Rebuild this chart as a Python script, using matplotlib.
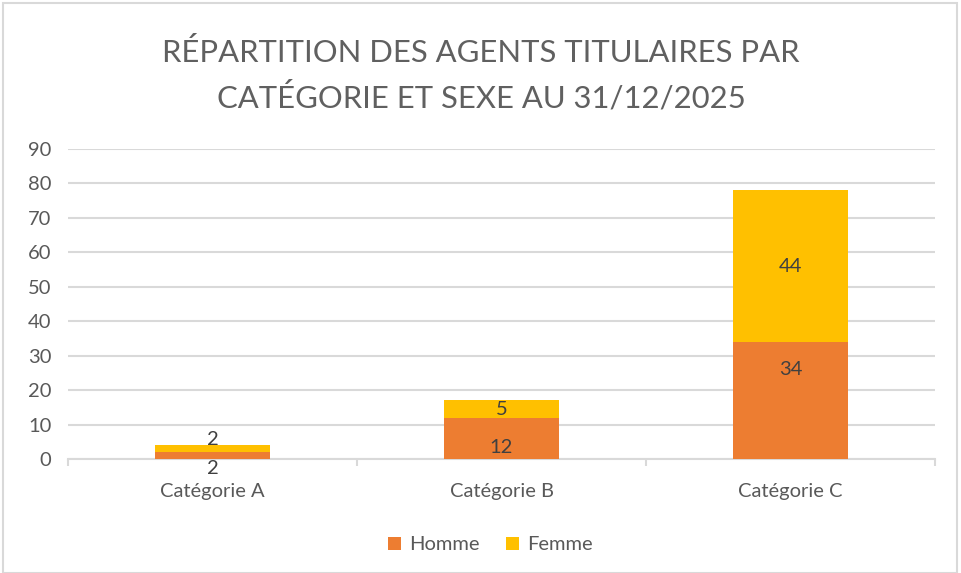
import matplotlib.pyplot as plt
import numpy as np
from matplotlib.patches import Rectangle

# Données
categories = ['Catégorie A', 'Catégorie B', 'Catégorie C']
homme = [2, 12, 34]
femme = [2, 5, 44]
y_ticks = [0, 10, 20, 30, 40, 50, 60, 70, 80, 90]

# Style
plt.rcParams['font.family'] = ['Lato', 'DejaVu Sans']
gris = '#595959'
orange = '#ED7D31'
jaune = '#FFC000'

fig = plt.figure(figsize=(9.61, 5.73), dpi=100)
ax = fig.add_axes([68 / 961, 1 - 459 / 573, (935 - 68) / 961, (459 - 149) / 573])

x = np.arange(len(categories))
largeur = 0.4
b1 = ax.bar(x, homme, largeur, color=orange, label='Homme', zorder=3)
b2 = ax.bar(x, femme, largeur, bottom=homme, color=jaune, label='Femme', zorder=3)

# Décalages verticaux des étiquettes (points) comme dans Excel
decal_h = [-9, -6.5, 22]
decal_f = [6.5, 0, 0]
for i in range(len(categories)):
    ax.annotate(str(homme[i]), (x[i], homme[i] / 2), xytext=(0, decal_h[i]),
                textcoords='offset points', ha='center', va='center', fontsize=14.5, color='#404040', zorder=4)
    ax.annotate(str(femme[i]), (x[i], homme[i] + femme[i] / 2), xytext=(0, decal_f[i]),
                textcoords='offset points', ha='center', va='center', fontsize=14.5, color='#404040', zorder=4)

ax.set_xlim(-0.5, 2.5)
ax.set_ylim(0, 90)
ax.set_yticks(y_ticks)
ax.set_xticks(x)
ax.set_xticklabels(categories)
ax.yaxis.grid(True, color='#D9D9D9', linewidth=1.5, zorder=0)
ax.tick_params(axis='y', length=0, labelsize=14.5, labelcolor=gris, pad=12)
ax.tick_params(axis='x', length=0, labelsize=14.5, labelcolor=gris, pad=17)
ax.set_xticks([-0.5, 0.5, 1.5, 2.5], minor=True)
ax.tick_params(axis='x', which='minor', length=5, color='#D9D9D9', width=1.5)
for s in ['top', 'right', 'left']:
    ax.spines[s].set_visible(False)
ax.spines['bottom'].set_color('#D9D9D9')
ax.spines['bottom'].set_linewidth(1.5)

fig.text(481 / 961, 1 - 75 / 573, 'RÉPARTITION DES AGENTS TITULAIRES PAR\nCATÉGORIE ET SEXE AU 31/12/2025',
         ha='center', va='center', fontsize=22.3, color='#606060', linespacing=1.6)

fig.legend(handles=[b1, b2], loc='center', bbox_to_anchor=(490 / 961, 1 - 545 / 573), ncol=2,
           frameon=False, fontsize=14.5, labelcolor=gris, handlelength=0.65, handleheight=0.65,
           handletextpad=0.4, columnspacing=1.3)

# Cadre du graphique
fig.add_artist(Rectangle((3 / 961, 0), 954 / 961, 570 / 573, transform=fig.transFigure,
                         fill=False, edgecolor='#D9D9D9', linewidth=1.5))

plt.savefig('out.png', dpi=100)
